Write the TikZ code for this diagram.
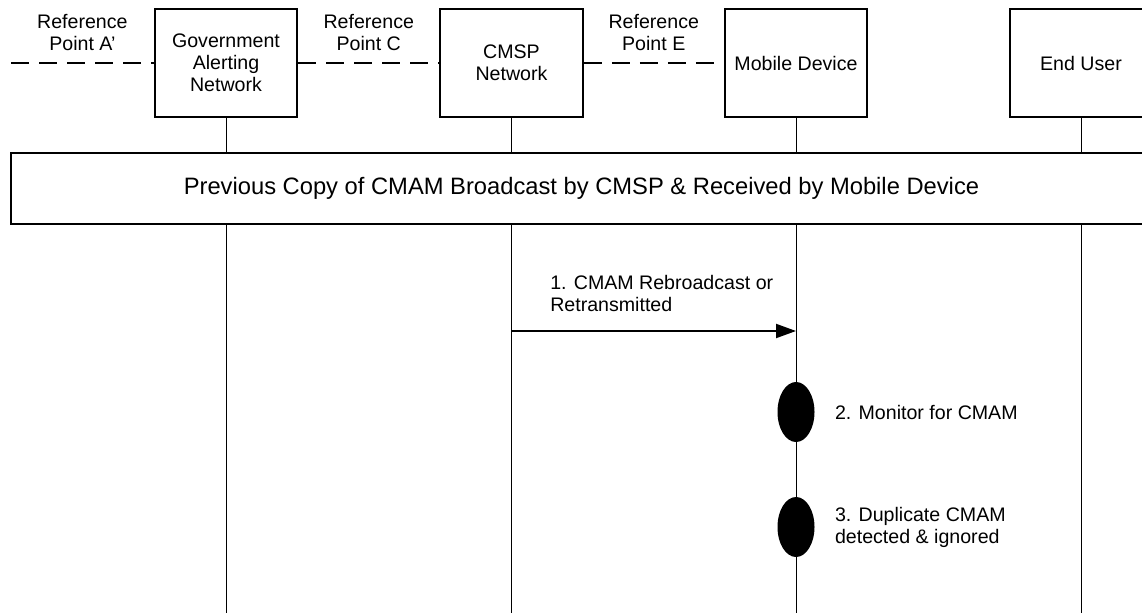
\documentclass[tikz,border=0pt]{standalone}
\usepackage{fontspec}
\setmainfont{Liberation Sans}
\usetikzlibrary{arrows.meta}
\usetikzlibrary{shapes.geometric}
\usetikzlibrary{positioning}

\begin{document}
\begin{tikzpicture}[x=0.75pt, y=-0.75pt, font=\fontsize{14.7}{16.5}\selectfont,
  entity/.style={draw, line width=1.5pt, fill=white, minimum width=107pt, minimum height=81pt, align=center, inner sep=0pt},
  refline/.style={line width=1.5pt, dash pattern=on 13.5pt off 7.5pt},
  reflabel/.style={midway, above=8.5pt, align=center, inner sep=0pt},
  lifeline/.style={line width=0.75pt},
  frame/.style={draw, line width=1.1pt, fill=white, minimum width=855.75pt, minimum height=53.25pt, font=\fontsize{17.8}{20}\selectfont},
  msg/.style={line width=1.5pt, -{Triangle[length=15pt,width=10.5pt]}},
  act/.style={ellipse, fill=black, minimum width=27.75pt, minimum height=45pt, inner sep=0pt},
  note/.style={align=left, inner sep=0pt}]
  \clip (0,0) rectangle (1142,613);

  % participants
  \node[entity] (gov) at (226,63) {Government\\Alerting\\Network};
  \node[entity] (cmsp) at (511.5,63) {CMSP\\Network};
  \node[entity] (md) at (796,63) {Mobile Device};
  \node[entity] (user) at (1081,63) {End User};

  \coordinate (bot) at (0,613);
  \coordinate (refA) at (11,63);
  \coordinate (y1) at (0,331);

  \foreach \n in {gov,cmsp,md,user}
    \draw[lifeline] (\n.south) -- (\n.south |- bot);

  % reference points
  \draw[refline] (refA) -- (gov.west) node[reflabel] {Reference\\Point A’};
  \draw[refline] (gov.east) -- (cmsp.west) node[reflabel] {Reference\\Point C};
  \draw[refline] (cmsp.east) -- (md.west) node[reflabel] {Reference\\Point E};

  \node[frame] (prev) at (581.5,188.5) {Previous Copy of CMAM Broadcast by CMSP \& Received by Mobile Device};

  % steps
  \draw[msg] (cmsp.south |- y1) -- (md.south |- y1);
  \node[note, anchor=south west] (t1) at (550,312) {1. CMAM Rebroadcast or\\Retransmitted};

  \node[act] (a2) at (796,412) {};
  \node[note, right=15pt of a2] (t2) {2. Monitor for CMAM};
  \node[act] (a3) at (796,527) {};
  \node[note, right=15pt of a3] (t3) {3. Duplicate CMAM\\detected \& ignored};
\end{tikzpicture}
\end{document}
